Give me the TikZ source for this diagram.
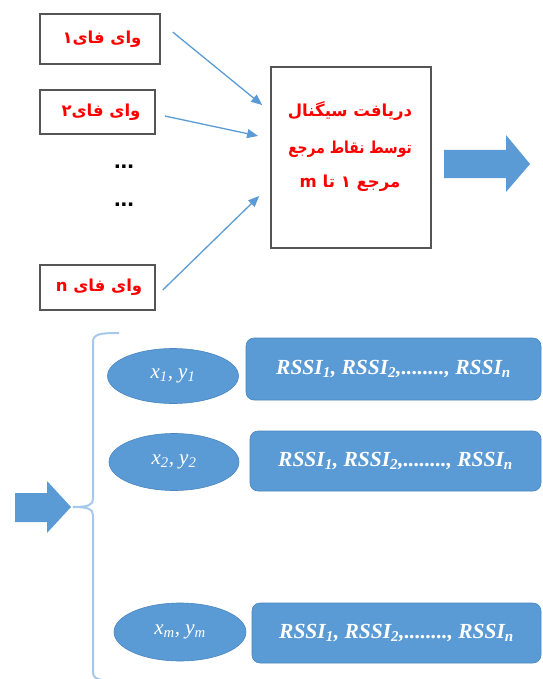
\documentclass[tikz,border=0pt]{standalone}
\usepackage{fontspec}
\usepackage{graphicx}
\usetikzlibrary{arrows.meta,shapes.geometric}
\TeXXeTstate=1
\newfontfamily\arabicfont[Script=Arabic]{DejaVu Sans}
\newfontfamily\rssifont{Liberation Serif}
\newfontfamily\dotfont{Liberation Sans}
\definecolor{office}{HTML}{5B9BD5}
\definecolor{officedark}{HTML}{4A86C0}
\definecolor{bracecol}{HTML}{A5C8EC}
\definecolor{boxgray}{HTML}{555555}
\begin{document}
\begin{tikzpicture}[x=1pt,y=-1pt,
  wifibox/.style={draw=boxgray, line width=1.8pt, fill=white, inner sep=0pt},
  redtext/.style={text=red, inner sep=0pt, font=\arabicfont\bfseries\fontsize{16.5}{18}\selectfont},
  conn/.style={draw=office, line width=1.3pt, -{Triangle[length=11pt,width=9pt]}},
  posell/.style={ellipse, fill=office, draw=officedark, line width=0.6pt, inner sep=0pt, text=white, font=\rssifont\itshape\fontsize{21}{24}\selectfont},
  rssibox/.style={rectangle, rounded corners=8pt, fill=office, draw=officedark, line width=0.6pt, inner sep=0pt, text=white, font=\rssifont\bfseries\itshape\fontsize{21.5}{24}\selectfont},
  bracestyle/.style={draw=bracecol, line width=2pt},
  dots/.style={inner sep=0pt, font=\dotfont\bfseries\fontsize{24}{24}\selectfont}]
\useasboundingbox (0,0) rectangle (542,679);

% Wi-Fi boxes
\node[wifibox, minimum width=120pt, minimum height=50pt] (wifi1) at (100,39) {};
\node[redtext] (w1t) at (102,39) {\beginR وای فای۱\endR};
\node[wifibox, minimum width=115pt, minimum height=44pt] (wifi2) at (97.5,112) {};
\node[redtext] (w2t) at (101,112) {\beginR وای فای۲\endR};
\node[wifibox, minimum width=115pt, minimum height=45pt] (wifin) at (97.5,287.5) {};
\node[redtext] (wnt) at (99,287.5) {\beginR وای فای n\endR};

\node[dots] (d1) at (124,167) {...};
\node[dots] (d2) at (124,205) {...};

% receiving box
\node[wifibox, minimum width=160pt, minimum height=181pt] (recv) at (351,157.5) {};
\node[redtext] (r1t) at (350,111) {\beginR دریافت سیگنال\endR};
\node[redtext] (r2t) at (350,149) {\scalebox{0.84}[1]{\beginR توسط نقاط مرجع\endR}};
\node[redtext] (r3t) at (350,183) {\beginR مرجع ۱ تا m\endR};

% connectors
\draw[conn, shorten <=15.4pt, shorten >=10.2pt] ([yshift=16.6pt]wifi1.east) -- ([yshift=46pt]recv.west);
\draw[conn, shorten <=9.2pt, shorten >=12.3pt] ([yshift=-2.1pt]wifi2.east) -- ([yshift=19pt]recv.west);
\draw[conn, shorten <=9.7pt, shorten >=15.2pt] ([yshift=-9.2pt]wifin.east) -- ([yshift=-27.9pt]recv.west);

% block arrows
\fill[office] (444,150) -- (506,150) -- (506,135) -- (530,164) -- (506,192) -- (506,178) -- (444,178) -- cycle;
\fill[office] (15,493) -- (47,493) -- (47,481) -- (71,507) -- (47,533) -- (47,522) -- (15,522) -- cycle;

% brace
\draw[bracestyle] (119,333) .. controls (100,333) and (93,334) .. (93,342) -- (93,499)
   .. controls (93,505) and (88,507) .. (73,507);
\draw[bracestyle] (73,507) .. controls (88,507) and (93,509) .. (93,515) -- (93,672)
   .. controls (93,677) and (96,679) .. (102,680);

% positions
\node[posell, minimum width=131pt, minimum height=55pt] (p1) at (173,376) {x\textsubscript{1}, y\textsubscript{1}};
\node[posell, minimum width=130pt, minimum height=57pt] (p2) at (174,462) {x\textsubscript{2}, y\textsubscript{2}};
\node[posell, minimum width=132pt, minimum height=58pt] (pm) at (180,632) {x\textsubscript{m}, y\textsubscript{m}};

% RSSI rows
\node[rssibox, minimum width=295pt, minimum height=62pt] (s1) at (393.5,369) {RSSI\textsubscript{1}, RSSI\textsubscript{2},........, RSSI\textsubscript{n}};
\node[rssibox, minimum width=291pt, minimum height=60pt] (s2) at (395.5,461) {RSSI\textsubscript{1}, RSSI\textsubscript{2},........, RSSI\textsubscript{n}};
\node[rssibox, minimum width=289pt, minimum height=60pt] (sm) at (396.5,633) {RSSI\textsubscript{1}, RSSI\textsubscript{2},........, RSSI\textsubscript{n}};
\end{tikzpicture}
\end{document}
